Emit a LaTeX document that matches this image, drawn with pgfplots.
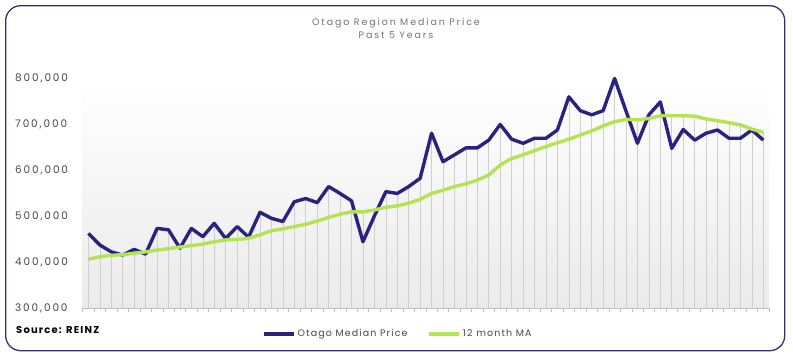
\documentclass[border=0pt]{standalone}
\usepackage{pgfplots}
\pgfplotsset{compat=1.18}
\usepackage{pgfplotstable}
\usepackage{fontspec}
\setmainfont{Poppins}
\newfontfamily\tickfont{Poppins}[LetterSpace=18]
\newfontfamily\titlefont{Poppins}[LetterSpace=20]
\newfontfamily\legfont{Poppins}[LetterSpace=12]
\newfontfamily\srcfont{Poppins}[LetterSpace=12, UprightFont=*-Bold]
\definecolor{otblue}{HTML}{2B2280}
\definecolor{otgreen}{HTML}{B4E452}
\definecolor{frame}{HTML}{34306E}
\definecolor{drop}{HTML}{CFCFCF}
\pgfplotstableread{
i price ma
0 462000 406000
1 437000 411500
2 422000 414500
3 415000 416000
4 427500 419000
5 417000 422000
6 473000 426000
7 470000 429000
8 430000 432600
9 473000 435500
10 455000 439000
11 484000 444000
12 451000 448000
13 477000 449000
14 454000 451500
15 508000 459000
16 495000 468000
17 488000 472000
18 531000 477000
19 538000 482000
20 529000 489000
21 564000 497000
22 549000 504000
23 533000 509000
24 444000 509000
25 500000 513000
26 553000 519000
27 549000 522000
28 564000 528000
29 582000 536000
30 680000 549000
31 618000 556000
32 633000 564000
33 648000 570000
34 648000 578000
35 665000 589000
36 699000 611000
37 667000 625000
38 658000 633000
39 669000 642000
40 669000 651000
41 687000 659000
42 759000 667000
43 729000 676000
44 720000 685000
45 729000 696000
46 799000 705000
47 728000 710000
48 658000 709000
49 720000 712000
50 748000 718000
51 647000 718000
52 688000 718000
53 665000 717000
54 680000 711000
55 687000 707000
56 669000 703000
57 669000 698000
58 687000 689000
59 665000 682000
}\datatable
\begin{document}
\begin{tikzpicture}[x=1bp,y=1bp]
\path[use as bounding box] (0,0) rectangle (793,359);
\draw[frame, line width=1.3bp, rounded corners=15bp] (5.7,8.3) rectangle (784.7,353.3);
\begin{axis}[
  at={(82.7bp,51bp)}, anchor=south west,
  scale only axis, width=686.3bp, height=230bp,
  xmin=-0.5, xmax=59.5, ymin=300000, ymax=800000,
  clip=false,
  axis x line*=bottom, axis y line*=left,
  y axis line style={draw=none},
  x axis line style={draw=black!25, line width=0.6bp},
  axis background/.style={shade, top color=white, bottom color=black!8},
  xtick={-0.5,0.5,...,59.5}, xticklabels={},
  xtick align=outside, major tick length=4bp,
  xtick style={draw=black!25, line width=0.5bp},
  ytick={300000,400000,...,800000},
  ytick style={draw=none},
  scaled y ticks=false,
  /pgf/number format/.cd, fixed, 1000 sep={,}, assume math mode=true,
  /pgfplots/.cd,
  yticklabel style={anchor=west, inner sep=0pt, xshift=-67.7bp, font=\tickfont\fontsize{10.5}{12}\selectfont, text=black!72},
  legend style={at={(0.2613,-0.113)}, anchor=west, draw=none, fill=none, inner sep=0pt,
    font=\legfont\fontsize{9.5}{11}\selectfont, text=black!72},
  legend columns=2,
  legend cell align=left,
  /tikz/every even column/.append style={column sep=18bp},
  legend image code/.code={\draw[#1, line cap=butt] (0bp,0bp) -- (30bp,0bp);},
]
\addplot[ycomb, draw=drop, line width=0.6bp, forget plot] table[x=i, y=price] {\datatable};
\addplot[ycomb, draw=drop, line width=0.6bp, forget plot] table[x=i, y=ma] {\datatable};
\addplot[otblue, line width=3.4bp, line join=round] table[x=i, y=price] {\datatable};
\addlegendentry{Otago Median Price}
\addplot[otgreen, line width=3.4bp, line join=round] table[x=i, y=ma] {\datatable};
\addlegendentry{12 month MA}
\end{axis}
\node[font=\titlefont\fontsize{9.5}{13}\selectfont, text=black!55, align=center] at (396,331) {Otago Region Median Price\\Past 5 Years};
\node[anchor=west, inner sep=0pt, font=\srcfont\fontsize{10}{12}\selectfont] at (16,29) {Source: REINZ};
\end{tikzpicture}
\end{document}
